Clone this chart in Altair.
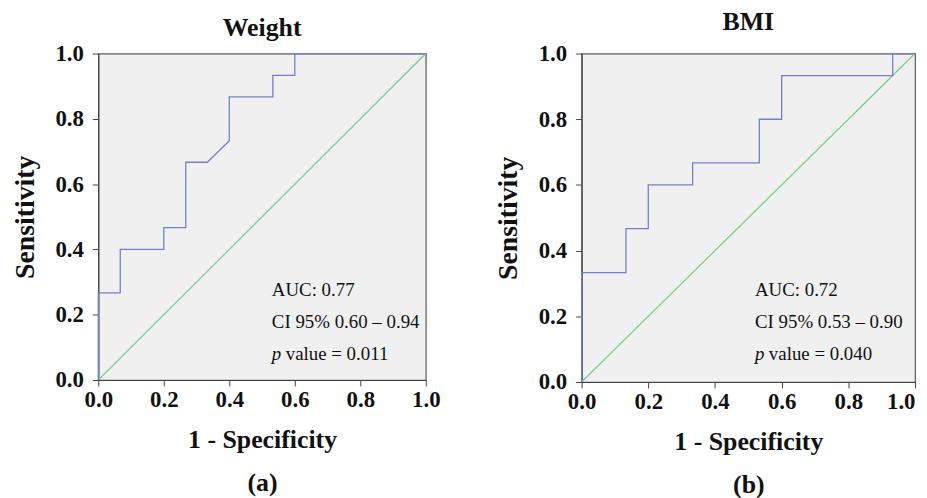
import altair as alt
import pandas as pd

# ---- data ----
weight_fpr = [0.0, 0.0, 0.067, 0.067, 0.2, 0.2, 0.267, 0.267, 0.333, 0.4, 0.4, 0.533, 0.533, 0.6, 0.6, 1.0]
weight_tpr = [0.0, 0.267, 0.267, 0.4, 0.4, 0.467, 0.467, 0.667, 0.667, 0.733, 0.867, 0.867, 0.933, 0.933, 1.0, 1.0]

bmi_fpr = [0.0, 0.0, 0.133, 0.133, 0.2, 0.2, 0.333, 0.333, 0.533, 0.533, 0.6, 0.6, 0.933, 0.933, 1.0]
bmi_tpr = [0.0, 0.333, 0.333, 0.467, 0.467, 0.6, 0.6, 0.667, 0.667, 0.8, 0.8, 0.933, 0.933, 1.0, 1.0]

ref_line = [0.0, 1.0]
ticks = [0.0, 0.2, 0.4, 0.6, 0.8, 1.0]

weight_stats = ["AUC: 0.77", "CI 95% 0.60 \u2013 0.94", "value = 0.011"]
bmi_stats = ["AUC: 0.72", "CI 95% 0.53 \u2013 0.90", "value = 0.040"]

FONT = "Liberation Serif"
BLUE = "#7080c8"
GREEN = "#78cc8c"


def panel(title, fpr, tpr, stats, label, w, h, tx, ty, title_offset, flush_last):
    df = pd.DataFrame({"fpr": fpr, "tpr": tpr, "i": list(range(len(fpr)))})
    xs = alt.Scale(domain=[0, 1], nice=False)
    ys = alt.Scale(domain=[0, 1], nice=False)
    xkw = {}
    if flush_last:
        xkw["labelAlign"] = {"condition": {"test": "datum.value >= 1", "value": "right"},
                             "value": "center"}
    xax = alt.Axis(values=ticks, format=".1f", title=["1 - Specificity", label],
                   titleLineHeight=43, titlePadding=15, **xkw)
    yax = alt.Axis(values=ticks, format=".1f", title="Sensitivity", titlePadding=16,
                   titleFontSize=28, labelPadding=9)

    diag = alt.Chart(pd.DataFrame({"x": ref_line, "y": ref_line})).mark_line(
        color=GREEN, strokeWidth=1.2, clip=True
    ).encode(x=alt.X("x:Q", scale=xs, axis=xax), y=alt.Y("y:Q", scale=ys, axis=yax))

    roc = alt.Chart(df).mark_line(color=BLUE, strokeWidth=1.3).encode(
        x=alt.X("fpr:Q", scale=xs), y=alt.Y("tpr:Q", scale=ys), order="i:Q"
    )

    tdf = pd.DataFrame({"x": [tx] * 3, "y": [ty, ty - 0.098, ty - 0.196], "t": stats})
    txt = alt.Chart(tdf.iloc[:2]).mark_text(
        align="left", baseline="middle", font=FONT, fontSize=19, color="#111"
    ).encode(x=alt.X("x:Q", scale=xs), y=alt.Y("y:Q", scale=ys), text="t:N")
    pdf = pd.DataFrame({"x": [tx], "y": [ty - 0.196], "t": ["p"]})
    ptxt = alt.Chart(pdf).mark_text(
        align="left", baseline="middle", font=FONT, fontSize=19, fontStyle="italic", color="#111"
    ).encode(x=alt.X("x:Q", scale=xs), y=alt.Y("y:Q", scale=ys), text="t:N")
    last = alt.Chart(tdf.iloc[2:]).mark_text(
        align="left", baseline="middle", font=FONT, fontSize=19, color="#111", dx=14
    ).encode(x=alt.X("x:Q", scale=xs), y=alt.Y("y:Q", scale=ys), text="t:N")

    return alt.layer(diag, roc, txt, ptxt, last).properties(
        width=w, height=h,
        title=alt.TitleParams(title, font=FONT, fontSize=26, fontWeight="bold",
                              color="#111", offset=title_offset),
    )


a = panel("Weight", weight_fpr, weight_tpr, weight_stats, "(a)", 330, 329, 0.53, 0.275, 2, False)
b = panel("BMI", bmi_fpr, bmi_tpr, bmi_stats, "(b)", 336, 331, 0.52, 0.28, 8, True)

chart = alt.concat(a, b, columns=2, spacing=53, align="none").configure(
    padding={"left": 2, "top": -2, "right": 0, "bottom": 0}
).configure_view(
    fill="#f0f0f0", stroke="#5a5a5a", strokeWidth=1.2
).configure_axis(
    grid=False, labelFlush=False,
    domainColor="#444", tickColor="#444", tickSize=6, domainWidth=1.2,
    labelFont=FONT, labelFontSize=23, labelFontWeight="bold", labelColor="#111",
    labelPadding=3,
    titleFont=FONT, titleFontSize=26, titleFontWeight="bold", titleColor="#111",
)

chart.save("out.html", embed_options={"renderer": "svg", "actions": False})
